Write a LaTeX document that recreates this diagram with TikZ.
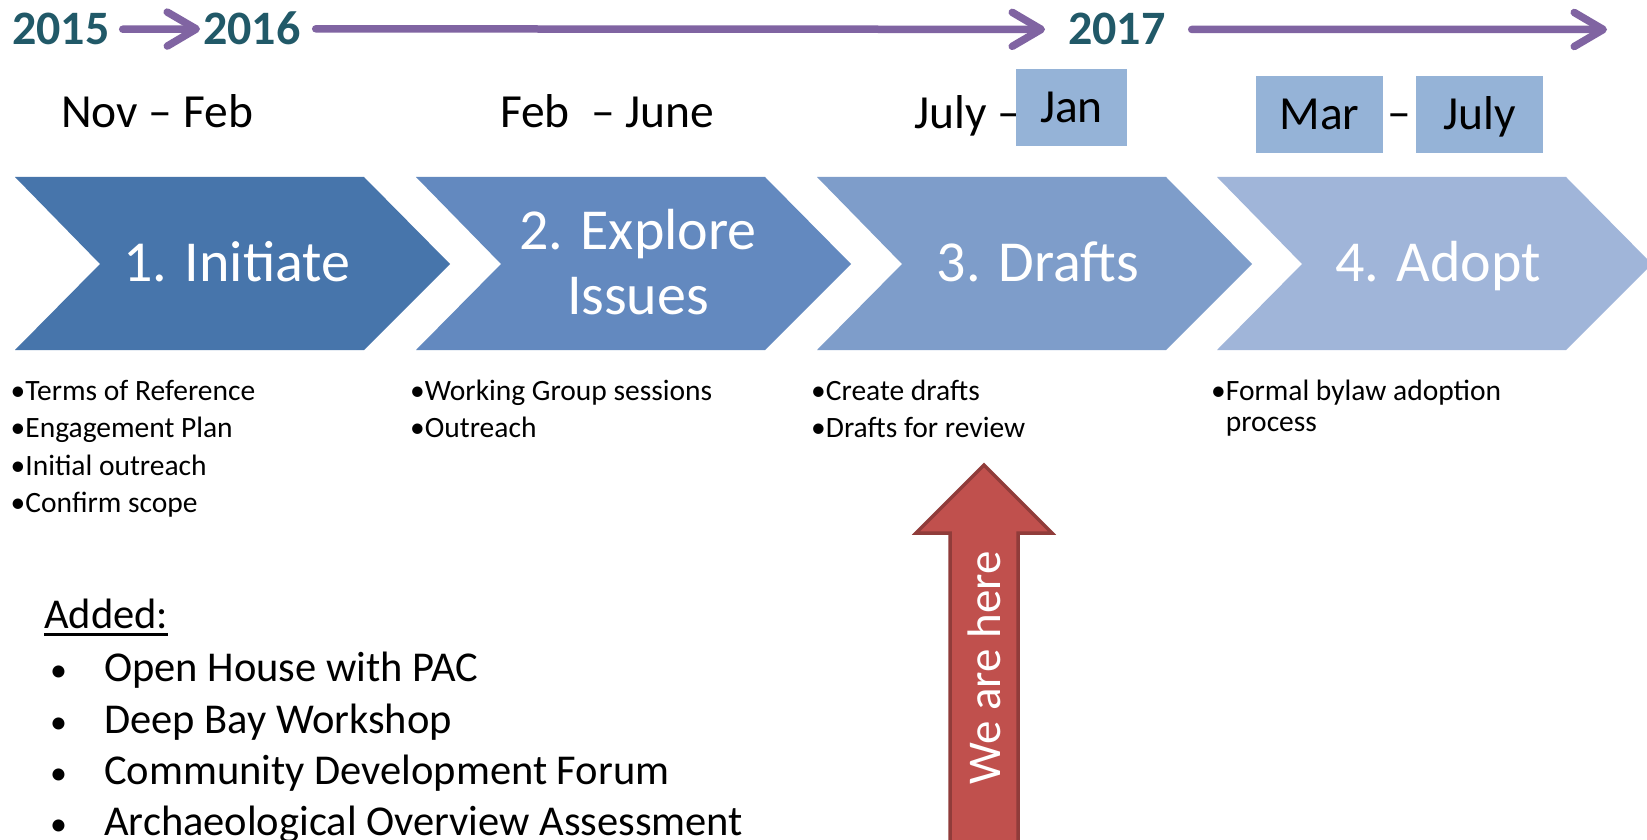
\documentclass[tikz,border=0pt]{standalone}
\usepackage{fontspec}
\setmainfont{Carlito}
\usepackage{tikz}
\usetikzlibrary{arrows.meta}
\definecolor{yearteal}{RGB}{33,89,104}
\definecolor{tlpurple}{RGB}{128,100,162}
\definecolor{chevA}{RGB}{71,117,171}
\definecolor{chevB}{RGB}{99,137,191}
\definecolor{chevC}{RGB}{126,157,202}
\definecolor{chevD}{RGB}{160,181,217}
\definecolor{dateblue}{RGB}{149,179,215}
\definecolor{herefill}{RGB}{192,80,77}
\definecolor{hereline}{RGB}{144,60,58}

\begin{document}
\begin{tikzpicture}[x=1pt,y=1pt]
	\tikzstyle{every node}+=[inner sep=0pt]
	\tikzstyle{year}=[font=\fontsize{48}{48}\selectfont\bfseries, text=yearteal, anchor=base west]
	\tikzstyle{yeararrow}=[tlpurple, line width=7.5pt, line cap=round, -{Straight Barb[length=29pt,width=34pt,round]}]
	\tikzstyle{date}=[font=\fontsize{47.5}{47.5}\selectfont, anchor=base west]
	\tikzstyle{datebox}=[fill=dateblue, font=\fontsize{47.5}{47.5}\selectfont, text height=30pt, text depth=0pt]
	\tikzstyle{stage}=[font=\fontsize{58}{58}\selectfont, text=white, anchor=base]
	\tikzstyle{item}=[font=\fontsize{29.5}{29.5}\selectfont, anchor=base west]
	\tikzstyle{added}=[font=\fontsize{42.5}{42.5}\selectfont, anchor=base west]
	\fill [white] (0,0) rectangle (1647,-840);
	\useasboundingbox (0,0) rectangle (1647,-840);
	% years
	\node [year] (y2015) at (12,-45) {2015};
	\node [year] (y2016) at (203,-45) {2016};
	\node [year] (y2017) at (1068,-45) {2017};
	\coordinate (tlend) at (1607,-29.5);
	\draw [yeararrow, shorten <=13pt, shorten >=3pt] (y2015) -- (y2016);
	\draw [yeararrow, shorten <=15pt, shorten >=23pt] (y2016) -- (y2017);
	\draw [yeararrow, shorten <=26pt] (y2017) -- (tlend);
	% dates
	\node [date] (nov) at (61,-128) {Nov – Feb};
	\node [date] (feb) at (500,-128) {Feb\ \ – June};
	\node [date] (jul) at (914,-129) {July –};
	\node [datebox, minimum width=111pt, minimum height=77pt] (jan) at (1071.5,-107.5) {Jan};
	\node [datebox, minimum width=127pt, minimum height=77pt] (mar) at (1319.5,-114.5) {Mar};
	\node [date] (dash) at (1387,-129) {–};
	\node [datebox, minimum width=127pt, minimum height=77pt] (july) at (1479.5,-114.5) {July};
	% chevrons
	\fill [chevA] (15,-177) -- (364,-177) -- (450,-264) -- (364,-350) -- (15,-350) -- (100,-264) -- cycle;
	\fill [chevB] (416,-177) -- (765,-177) -- (851,-264) -- (765,-350) -- (416,-350) -- (501,-264) -- cycle;
	\fill [chevC] (817,-177) -- (1166,-177) -- (1252,-264) -- (1166,-350) -- (817,-350) -- (902,-264) -- cycle;
	\fill [chevD] (1217,-177) -- (1566,-177) -- (1652,-264) -- (1566,-350) -- (1217,-350) -- (1302,-264) -- cycle;
	\node [stage] (s1) at (237,-281.5) {1. Initiate};
	\node [stage] (s2a) at (638,-249) {2. Explore};
	\node [stage] (s2b) at (638,-314) {Issues};
	\node [stage] (s3) at (1038,-281.5) {3. Drafts};
	\node [stage] (s4) at (1438,-281.5) {4. Adopt};
	% bullets
	\node [item] (i1a) at (10.5,-400) {•Terms of Reference};
	\node [item] (i1b) at (10.5,-437.5) {•Engagement Plan};
	\node [item] (i1c) at (10.5,-475) {•Initial outreach};
	\node [item] (i1d) at (10.5,-512.5) {•Confirm scope};
	\node [item] (i2a) at (410,-400) {•Working Group sessions};
	\node [item] (i2b) at (410,-437.5) {•Outreach};
	\node [item] (i3a) at (811,-400) {•Create drafts};
	\node [item] (i3b) at (811,-437.5) {•Drafts for review};
	\node [item] (i4a) at (1211,-400) {•Formal bylaw adoption};
	\node [item] (i4b) at (1211,-431) {\phantom{•}process};
	% we are here
	\filldraw [fill=herefill, draw=hereline, line width=3.5pt] (984,-465) -- (1052,-533) -- (1018,-533) -- (1018,-846) -- (950,-846) -- (950,-533) -- (916,-533) -- cycle;
	\node [rotate=90, text=white, font=\fontsize{47}{47}\selectfont] (here) at (984,-668) {We are here};
	% added
	\node [added] (addhd) at (44,-628) {Added:};
	\draw [line width=2.5pt] ([yshift=-6.5pt]addhd.base west) -- ([yshift=-6.5pt]addhd.base east);
	\node [added] (a1) at (50,-681) {\makebox[54pt][l]{\fontsize{34}{34}\selectfont•}Open House with PAC};
	\node [added] (a2) at (50,-733) {\makebox[54pt][l]{\fontsize{34}{34}\selectfont•}Deep Bay Workshop};
	\node [added] (a3) at (50,-784) {\makebox[54pt][l]{\fontsize{34}{34}\selectfont•}Community Development Forum};
	\node [added] (a4) at (50,-835) {\makebox[54pt][l]{\fontsize{34}{34}\selectfont•}Archaeological Overview Assessment};
\end{tikzpicture}
\end{document}
